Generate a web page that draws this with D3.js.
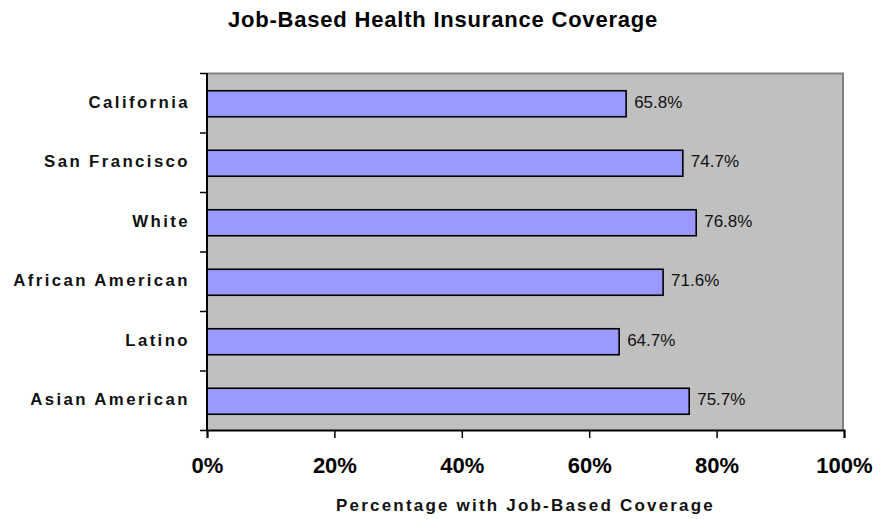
<!DOCTYPE html>
<html>
<head>
<meta charset="utf-8">
<script src="https://cdn.jsdelivr.net/npm/d3@7"></script>
<style>
  body { margin: 0; background: #fff; }
  text { font-family: 'Liberation Sans', Arial, sans-serif; }
</style>
</head>
<body>
<div id="chart"></div>
<script>
var categories = ['California', 'San Francisco', 'White', 'African American', 'Latino', 'Asian American']
var coverage = [65.8, 74.7, 76.8, 71.6, 64.7, 75.7]
var xTicks = [0, 20, 40, 60, 80, 100]

var margin = { top: 73, left: 207, right: 36, bottom: 89 }
var width = 880 - margin.left - margin.right
var height = 519 - margin.top - margin.bottom

var svg = d3.select('#chart')
  .append('svg')
  .attr('width', 880)
  .attr('height', 519)

var g = svg.append('g')
  .attr('transform', `translate(${margin.left},${margin.top})`)

var xScale = d3.scaleLinear().domain([0, 100]).range([0, width])

var yScale = d3.scaleBand()
  .domain(categories)
  .range([0, height])
  .paddingInner(0.563)
  .paddingOuter(0.563 / 2)

// boundaries between categories, for the left ticks
var yEdges = d3.scaleLinear().domain([0, categories.length]).range([0, height])

var data = categories.map((c, i) => ({ name: c, value: coverage[i] }))

// plot area
g.append('rect')
  .attr('width', width)
  .attr('height', height)
  .attr('fill', '#c0c0c0')

g.append('path')
  .attr('d', `M0,0.5H${width - 1}V${height}`)
  .attr('fill', 'none')
  .attr('stroke', '#808080')
  .attr('stroke-width', 2)

// bars
g.selectAll('.bar')
  .data(data)
  .enter()
  .append('rect')
  .attr('class', 'bar')
  .attr('x', 0)
  .attr('y', d => yScale(d.name) + 1)
  .attr('width', d => xScale(d.value))
  .attr('height', yScale.bandwidth())
  .attr('fill', '#9999ff')
  .attr('stroke', '#000')
  .attr('stroke-width', 1.6)

// value labels
g.selectAll('.value-label')
  .data(data)
  .enter()
  .append('text')
  .attr('class', 'value-label')
  .attr('x', d => xScale(d.value) + 8)
  .attr('y', d => yScale(d.name) + yScale.bandwidth() / 2 + 5)
  .attr('font-size', 17)
  .attr('fill', '#111')
  .text(d => d.value.toFixed(1) + '%')

// left axis (ticks between categories)
var yAxis = g.append('g')
  .call(d3.axisLeft(yEdges).ticks(categories.length).tickSize(7).tickFormat(''))
yAxis.select('.domain').remove()
yAxis.selectAll('line').attr('stroke', '#000').attr('stroke-width', 1.5)
g.append('line')
  .attr('x1', 0).attr('x2', 0)
  .attr('y1', 0).attr('y2', height)
  .attr('stroke', '#000')
  .attr('stroke-width', 2)

// category labels
g.selectAll('.cat-label')
  .data(categories)
  .enter()
  .append('text')
  .attr('class', 'cat-label')
  .attr('x', -17)
  .attr('y', d => yScale(d) + yScale.bandwidth() / 2 + 5)
  .attr('text-anchor', 'end')
  .attr('font-size', 16.8)
  .attr('font-weight', 'bold')
  .attr('letter-spacing', '2.4px')
  .attr('fill', '#111')
  .text(d => d)

// bottom axis
var xAxis = g.append('g')
  .attr('transform', `translate(0,${height})`)
  .call(d3.axisBottom(xScale).tickValues(xTicks).tickSize(8).tickPadding(19).tickFormat(d => d + '%'))
xAxis.select('.domain').attr('stroke', '#000').attr('stroke-width', 2)
xAxis.selectAll('line').attr('stroke', '#000').attr('stroke-width', 1.5)
xAxis.selectAll('text')
  .attr('font-size', 22)
  .attr('font-weight', 'bold')
  .attr('fill', '#000')
  .attr('font-family', "'Liberation Sans', Arial, sans-serif")

// axis title
svg.append('text')
  .attr('x', margin.left + width / 2)
  .attr('y', 511)
  .attr('text-anchor', 'middle')
  .attr('font-size', 17)
  .attr('font-weight', 'bold')
  .attr('letter-spacing', '2.2px')
  .attr('fill', '#111')
  .text('Percentage with Job-Based Coverage')

// chart title
svg.append('text')
  .attr('x', 443)
  .attr('y', 27)
  .attr('text-anchor', 'middle')
  .attr('font-size', 22)
  .attr('font-weight', 'bold')
  .attr('letter-spacing', '0.8px')
  .attr('fill', '#000')
  .text('Job-Based Health Insurance Coverage')
</script>
</body>
</html>
